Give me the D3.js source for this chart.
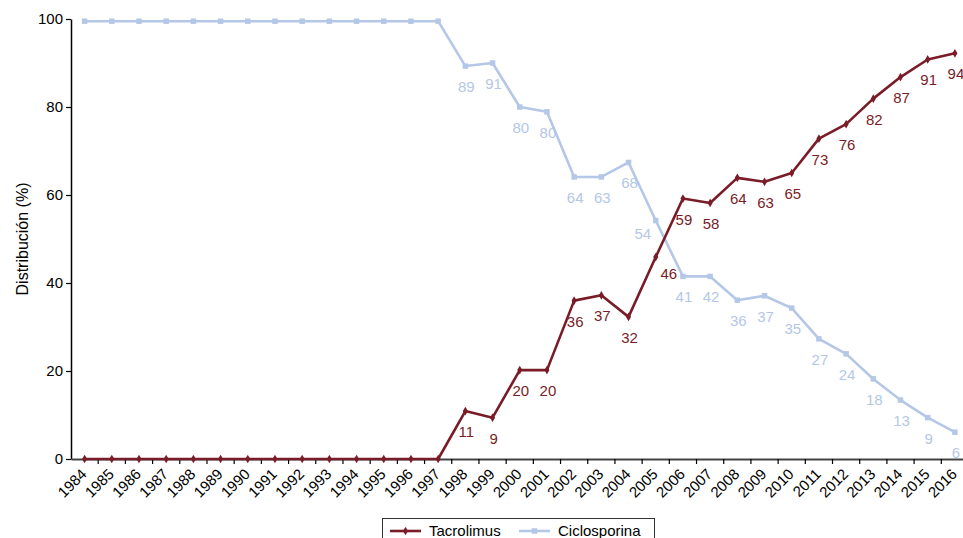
<!DOCTYPE html>
<html>
<head>
<meta charset="utf-8">
<script src="https://cdn.jsdelivr.net/npm/d3@7"></script>
<style>
  body { margin: 0; background: #fff; }
  text { font-family: "Liberation Sans", Arial, sans-serif; }
</style>
</head>
<body>
<div id="chart"></div>
<script>
// data
var years = d3.range(1984, 2017).map(String);

var tacrolimus = [0, 0, 0, 0, 0, 0, 0, 0, 0, 0, 0, 0, 0, 0,
  10.9, 9.4, 20.2, 20.2, 36, 37.2, 32.3, 45.9, 59.2, 58.2, 63.9, 63, 65,
  72.8, 76.1, 81.9, 86.8, 90.8, 92.2];
var tacLabels = [null, null, null, null, null, null, null, null, null, null, null, null, null, null,
  "11", "9", "20", "20", "36", "37", "32", "46", "59", "58", "64", "63", "65",
  "73", "76", "82", "87", "91", "94"];

var ciclosporina = [99.5, 99.5, 99.5, 99.5, 99.5, 99.5, 99.5, 99.5, 99.5, 99.5, 99.5, 99.5, 99.5, 99.5,
  89.3, 90, 80, 78.9, 64.1, 64.1, 67.4, 54.2, 41.5, 41.5, 36.1, 37.1, 34.3,
  27.3, 23.9, 18.2, 13.4, 9.4, 6.1];
var cicLabels = [null, null, null, null, null, null, null, null, null, null, null, null, null, null,
  "89", "91", "80", "80", "64", "63", "68", "54", "41", "42", "36", "37", "35",
  "27", "24", "18", "13", "9", "6"];

var yTicks = [0, 20, 40, 60, 80, 100];

var tacColor = "#7a1c28";
var cicColor = "#b4c7e7";

var svgWidth = 963, svgHeight = 538;

var svg = d3.select("#chart")
  .append("svg")
  .attr("width", svgWidth)
  .attr("height", svgHeight);

// scales
var x = d3.scaleBand()
  .domain(years)
  .range([71, 968.5]);

var y = d3.scaleLinear()
  .domain([0, 100])
  .range([459, 19]);

// y axis
var leftAxis = d3.axisLeft(y)
  .tickValues(yTicks)
  .tickSize(5)
  .tickSizeOuter(0);

var gy = svg.append("g")
  .attr("transform", "translate(71,0)")
  .call(leftAxis);
gy.select(".domain").attr("stroke", "#000").attr("stroke-width", 1.5);
gy.selectAll(".tick line").attr("stroke", "#000").attr("stroke-width", 1.2);
gy.selectAll(".tick text")
  .attr("font-size", "15px")
  .attr("fill", "#000")
  .attr("x", -8);

// x axis - labels at band centres, ticks on band edges
var bottomAxis = d3.axisBottom(x)
  .tickSize(0)
  .tickSizeOuter(0);

var gx = svg.append("g")
  .attr("transform", "translate(0,459)")
  .call(bottomAxis);
gx.select(".domain").attr("stroke", "#444").attr("stroke-width", 1.8);
gx.selectAll(".tick text")
  .attr("font-size", "15px")
  .attr("fill", "#000")
  .attr("text-anchor", "end")
  .attr("x", 0)
  .attr("y", 0)
  .attr("dy", 0)
  .attr("transform", "translate(3,16) rotate(-45)");

gx.selectAll(".edge")
  .data(years)
  .enter()
  .append("line")
  .attr("class", "edge")
  .attr("x1", d => x(d) + x.bandwidth())
  .attr("x2", d => x(d) + x.bandwidth())
  .attr("y1", 0)
  .attr("y2", 5)
  .attr("stroke", "#000")
  .attr("stroke-width", 1.2);

// y axis title
svg.append("text")
  .attr("transform", "translate(28,239) rotate(-90)")
  .attr("text-anchor", "middle")
  .attr("font-size", "16px")
  .attr("fill", "#000")
  .text("Distribución (%)");

var cx = d => x(d) + x.bandwidth() / 2;

// where the two lines cross the labels are pushed aside
var nudge = {
  Ciclosporina: { "2005": [-14, -8] },
  Tacrolimus: { "2005": [12, -4] }
};

function drawSeries(name, values, labels, color, shape) {
  var pts = years.map((yr, i) => ({ year: yr, v: values[i], label: labels[i] }));

  var line = d3.line()
    .x(d => cx(d.year))
    .y(d => y(d.v));

  svg.append("path")
    .datum(pts)
    .attr("fill", "none")
    .attr("stroke", color)
    .attr("stroke-width", 2.6)
    .attr("stroke-linejoin", "round")
    .attr("d", line);

  svg.selectAll(null)
    .data(pts)
    .enter()
    .append("path")
    .attr("d", d3.symbol().type(shape).size(shape === d3.symbolSquare ? 30 : 22))
    .attr("transform", d => `translate(${cx(d.year)},${y(d.v)})`)
    .attr("fill", color);

  var off = d => nudge[name][d.year] || [0, 0];

  svg.selectAll(null)
    .data(pts.filter(d => d.label !== null))
    .enter()
    .append("text")
    .attr("x", d => cx(d.year) + 1 + off(d)[0])
    .attr("y", d => y(d.v) + 26 + off(d)[1])
    .attr("text-anchor", "middle")
    .attr("font-size", "15px")
    .attr("fill", color)
    .text(d => d.label);
}

drawSeries("Ciclosporina", ciclosporina, cicLabels, cicColor, d3.symbolSquare);
drawSeries("Tacrolimus", tacrolimus, tacLabels, tacColor, d3.symbolDiamond);

// legend
var legend = svg.append("g");
legend.append("rect")
  .attr("x", 382.5)
  .attr("y", 518.5)
  .attr("width", 272)
  .attr("height", 30)
  .attr("fill", "#fff")
  .attr("stroke", "#333")
  .attr("stroke-width", 1);

var legendItems = [
  { name: "Tacrolimus", color: tacColor, shape: d3.symbolDiamond, x0: 390 },
  { name: "Ciclosporina", color: cicColor, shape: d3.symbolSquare, x0: 519 }
];

legendItems.forEach(function(it) {
  legend.append("line")
    .attr("x1", it.x0)
    .attr("x2", it.x0 + 31)
    .attr("y1", 531)
    .attr("y2", 531)
    .attr("stroke", it.color)
    .attr("stroke-width", 2.6);
  legend.append("path")
    .attr("d", d3.symbol().type(it.shape).size(it.shape === d3.symbolSquare ? 30 : 22))
    .attr("transform", `translate(${it.x0 + 15.5},531)`)
    .attr("fill", it.color);
  legend.append("text")
    .attr("x", it.x0 + 39)
    .attr("y", 535.5)
    .attr("font-size", "15px")
    .attr("fill", "#000")
    .text(it.name);
});
</script>
</body>
</html>
